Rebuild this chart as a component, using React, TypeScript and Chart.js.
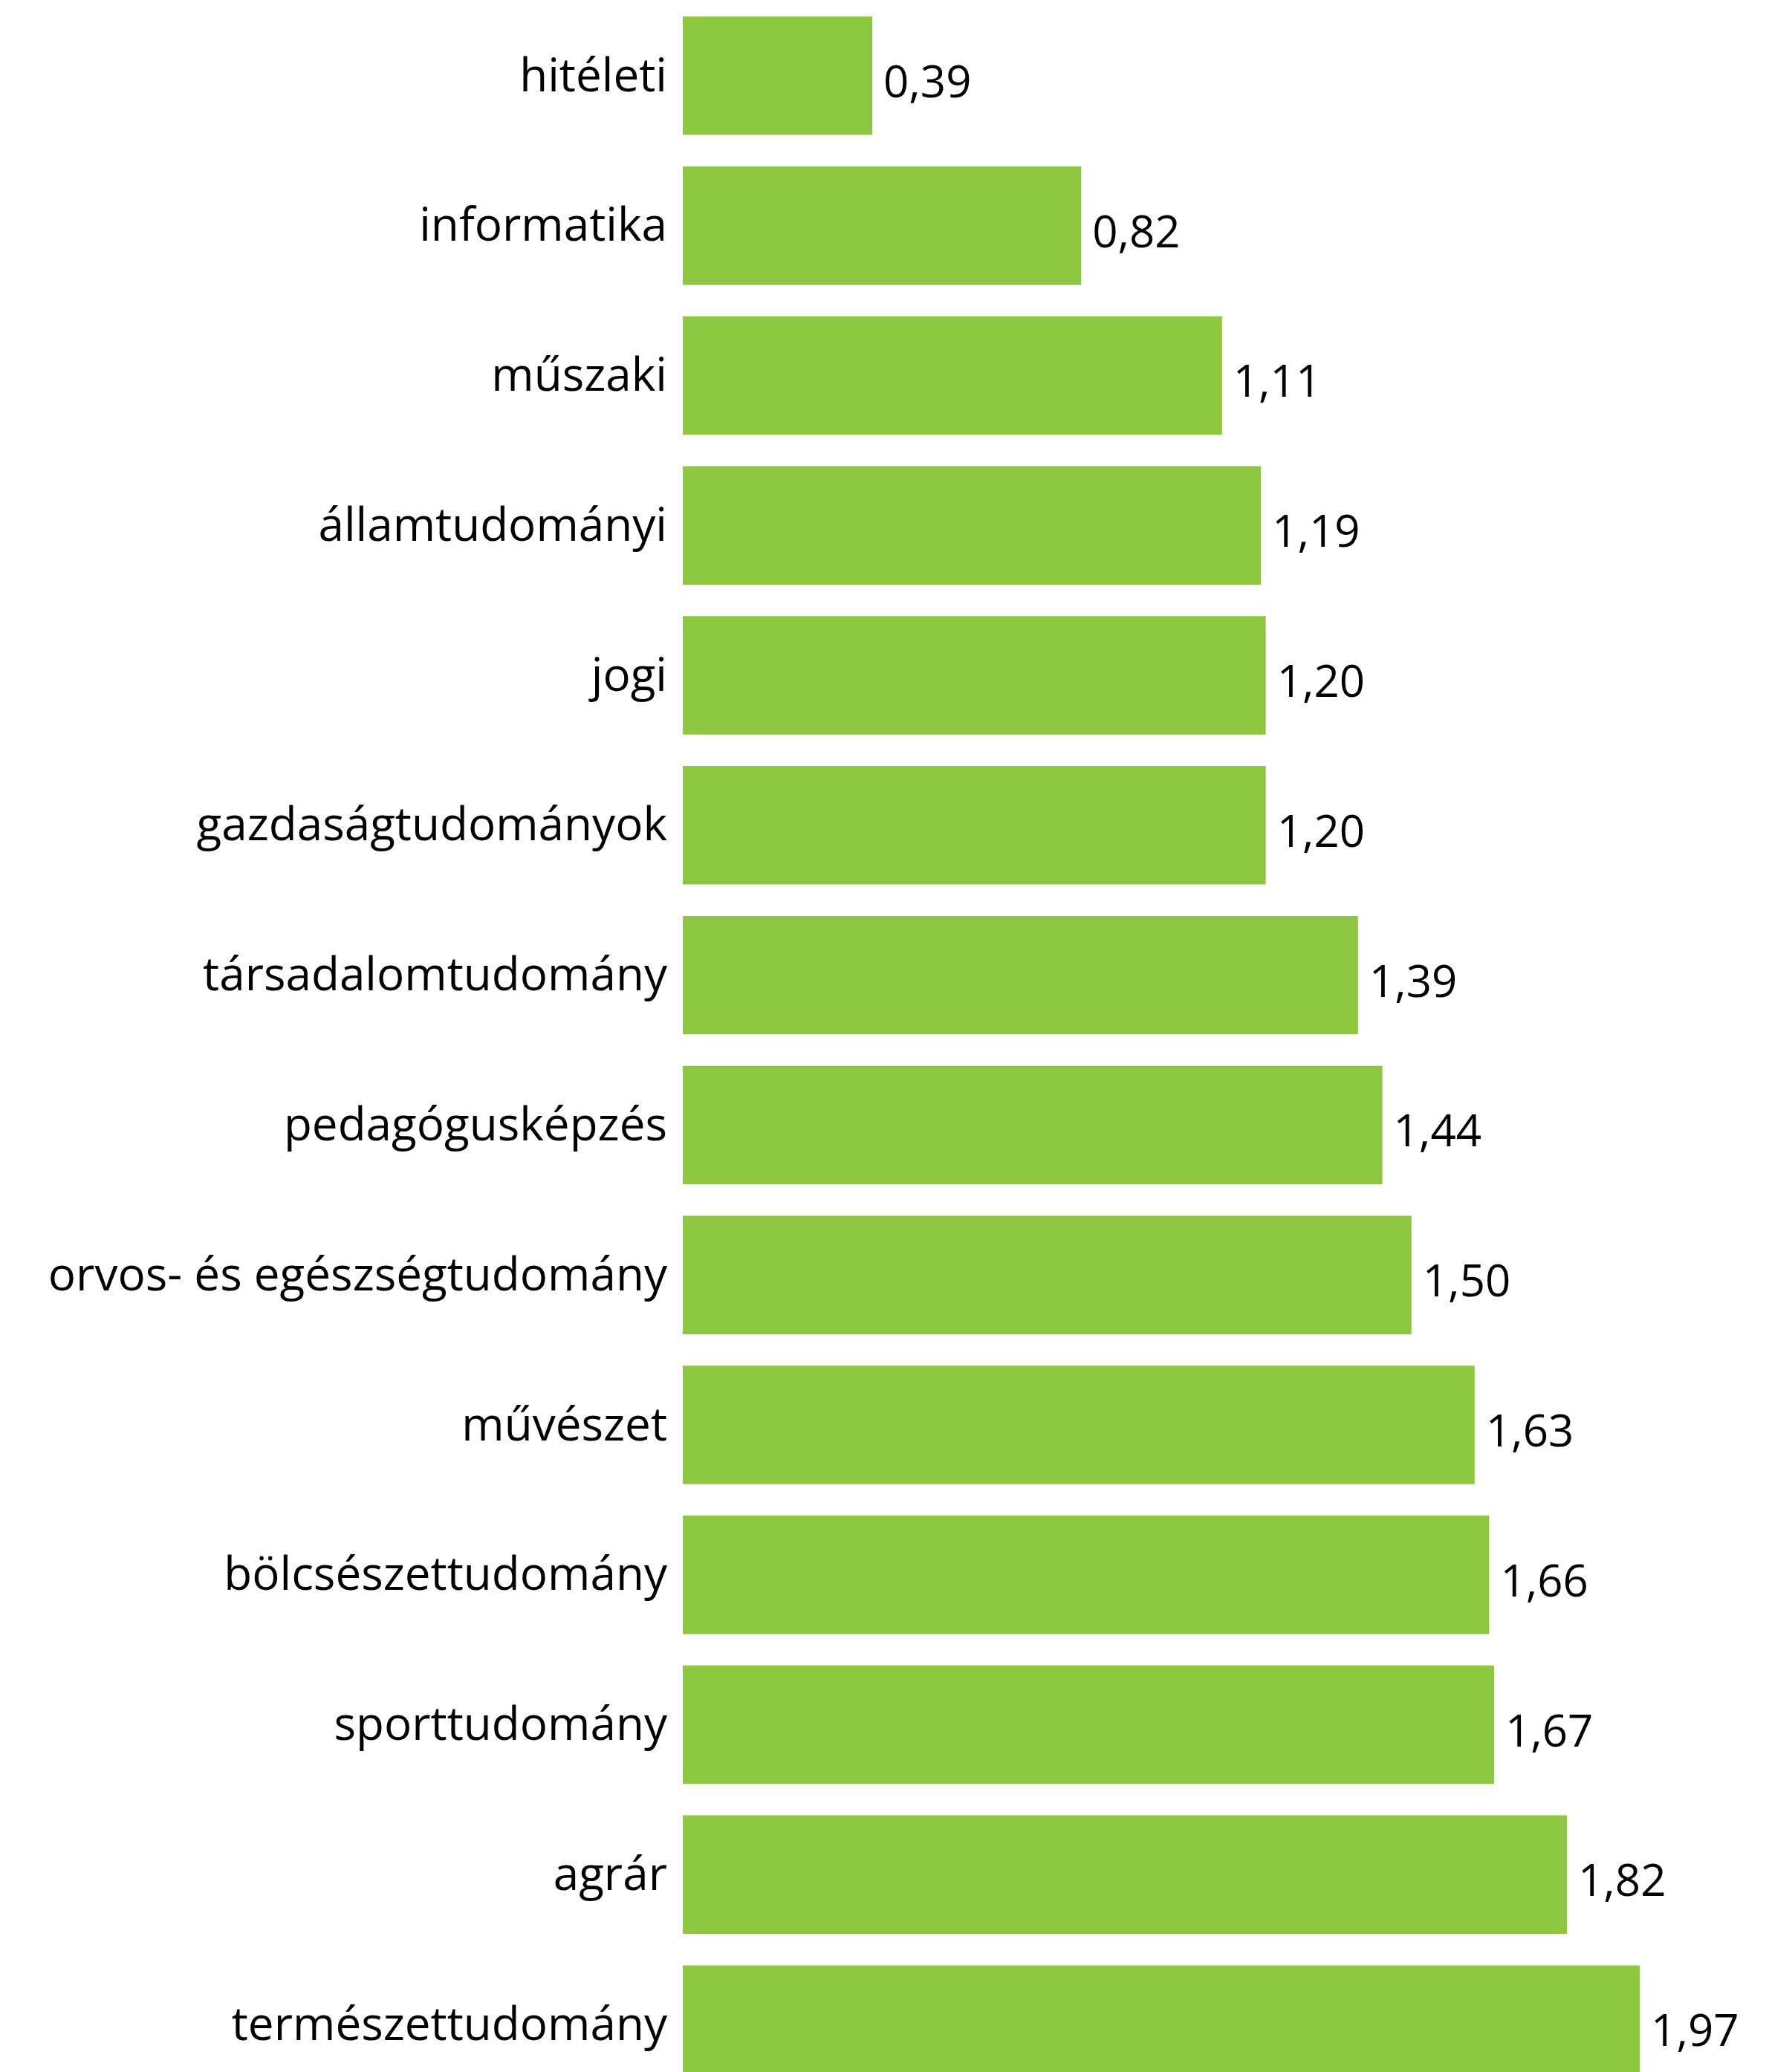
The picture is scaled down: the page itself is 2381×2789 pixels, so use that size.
import React, { useEffect, useRef } from "react";
import { Chart, registerables } from "chart.js";

Chart.register(...registerables);

const categories = [
  "hitéleti",
  "informatika",
  "műszaki",
  "államtudományi",
  "jogi",
  "gazdaságtudományok",
  "társadalomtudomány",
  "pedagógusképzés",
  "orvos- és egészségtudomány",
  "művészet",
  "bölcsészettudomány",
  "sporttudomány",
  "agrár",
  "természettudomány",
];

const values = [0.39, 0.82, 1.11, 1.19, 1.2, 1.2, 1.39, 1.44, 1.5, 1.63, 1.66, 1.67, 1.82, 1.97];

const BAR_COLOR = "#8DC63F";
const FONT_FAMILY = "'Open Sans', 'Noto Sans', sans-serif";
const FONT_SIZE = 62;
const VALUE_FONT_SIZE = 60;
const W = 2381;
const H = 2826;
const AXIS_WIDTH = 919;

const valueLabels = {
  id: "valueLabels",
  afterDatasetsDraw(chart: any) {
    const ctx = chart.ctx;
    const meta = chart.getDatasetMeta(0);
    ctx.save();
    ctx.fillStyle = "#000000";
    ctx.font = `${VALUE_FONT_SIZE}px ${FONT_FAMILY}`;
    ctx.textAlign = "left";
    ctx.textBaseline = "alphabetic";
    meta.data.forEach((bar: any, i: number) => {
      const v = chart.data.datasets[0].data[i] as number;
      const txt = v.toFixed(2).replace(".", ",");
      ctx.fillText(txt, bar.x + 15, bar.y + 29);
    });
    ctx.restore();
  },
};

export default function App() {
  const ref = useRef<HTMLCanvasElement | null>(null);

  useEffect(() => {
    if (!ref.current) return;
    const chart = new Chart(ref.current, {
      type: "bar",
      data: {
        labels: categories,
        datasets: [
          {
            data: values,
            backgroundColor: BAR_COLOR,
            borderWidth: 0,
            barPercentage: 0.79,
            categoryPercentage: 1,
          },
        ],
      },
      options: {
        indexAxis: "y",
        animation: false,
        responsive: false,
        devicePixelRatio: 1,
        layout: { padding: { top: 1, right: 23.5, bottom: 0, left: 0 } },
        plugins: {
          legend: { display: false },
          tooltip: { enabled: false },
        },
        scales: {
          x: {
            display: false,
            min: 0,
            max: 2.2,
          },
          y: {
            grid: { display: false, drawTicks: false },
            border: { display: false },
            ticks: {
              color: "#000000",
              padding: 21,
              labelOffset: 3,
              autoSkip: false,
              font: { family: FONT_FAMILY, size: FONT_SIZE },
            },
            afterFit: (scale: any) => {
              scale.width = AXIS_WIDTH;
              scale.paddingTop = 0;
              scale.paddingBottom = 0;
            },
          },
        },
      },
      plugins: [valueLabels],
    });
    return () => chart.destroy();
  }, []);

  return (
    <div style={{ position: "absolute", left: 0, top: 0, width: W, height: H, background: "#fff" }}>
      <canvas ref={ref} width={W} height={H} style={{ width: W, height: H, display: "block" }} />
    </div>
  );
}
